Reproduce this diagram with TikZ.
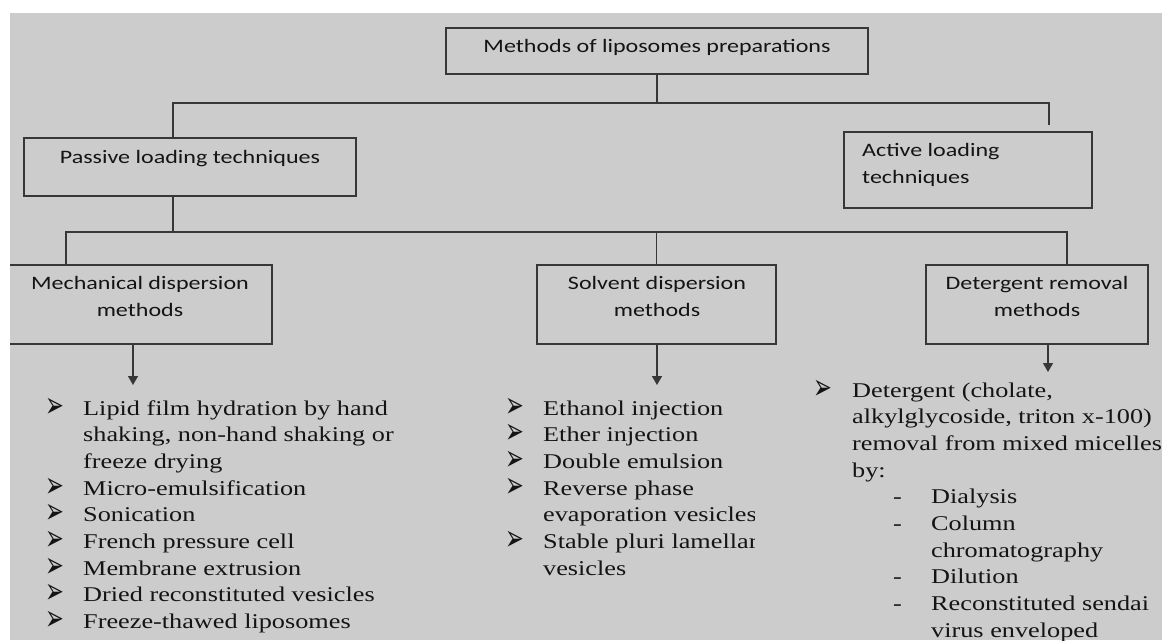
\documentclass[tikz,border=0pt]{standalone}
\usepackage{fontspec}
\usepackage{graphicx}
\setmainfont{Liberation Serif}
\newfontfamily\calib{Carlito}
\newfontfamily\dejavu{DejaVu Sans}
\usetikzlibrary{arrows.meta}
\definecolor{bg}{RGB}{204,204,204}
\definecolor{ln}{RGB}{55,55,55}
\definecolor{tx}{RGB}{20,20,20}
\newcommand\cx[1]{\scalebox{1.265}[1]{#1}}
\newcommand\tmx[1]{\scalebox{1.25}[1]{#1}}
\newcommand\bul{\raisebox{-2pt}{\scalebox{0.5}[1]{\dejavu\fontsize{36}{14}\selectfont ➢}}}
\newcommand\dsh[1]{\makebox[63.2pt][l]{\hspace{32.8pt}-}#1}
\tikzset{
  box/.style={draw=ln, line width=1.4pt, rectangle, inner sep=0pt},
  conn/.style={draw=ln, line width=1.4pt},
  arr/.style={draw=ln, line width=1.4pt, -{Triangle[width=10pt,length=9pt]}},
  boxtext/.style={inner sep=0pt, anchor=base, text=tx, font=\calib\fontsize{19}{27}\selectfont},
  listtext/.style={inner sep=0pt, anchor=base west, text=tx, font=\fontsize{21}{26.67}\selectfont},
}
\begin{document}
\begin{tikzpicture}[x=1pt, y=-1pt]
\useasboundingbox (0,0) rectangle (1162,640);
\fill[white] (0,0) rectangle (1162,640);
\fill[bg] (10,13) rectangle (1162,640);
\begin{scope}
\clip (10,13) rectangle (1162,640);
% level 0
\node[box, minimum width=422pt, minimum height=46pt] (top) at (657,51) {};
\node[boxtext] (toptext) at (657,52) {\cx{Methods of liposomes preparations}};
% level 1
\node[box, minimum width=332pt, minimum height=58pt] (passive) at (190,167) {};
\node[boxtext] (passivetext) at (190,163) {\cx{Passive loading techniques}};
\node[box, minimum width=248pt, minimum height=76pt] (active) at (968,170) {};
\node[boxtext, anchor=base west] (activetext) at (862,156) {\cx{\begin{tabular}[t]{@{}l@{}}Active loading\\techniques\end{tabular}}};
% level 2
\node[box, minimum width=272pt, minimum height=79pt] (mech) at (136,304.5) {};
\node[boxtext] (mechtext) at (140,289) {\cx{\begin{tabular}[t]{@{}c@{}}Mechanical dispersion\\methods\end{tabular}}};
\node[box, minimum width=239pt, minimum height=79pt] (solv) at (656.5,304.5) {};
\node[boxtext] (solvtext) at (657,289) {\cx{\begin{tabular}[t]{@{}c@{}}Solvent dispersion\\methods\end{tabular}}};
\node[box, minimum width=222pt, minimum height=79pt] (det) at (1037,304.5) {};
\node[boxtext] (dettext) at (1037,289) {\cx{\begin{tabular}[t]{@{}c@{}}Detergent removal\\methods\end{tabular}}};
% connectors
\coordinate (j1) at (173,103);
\coordinate (j2) at (1049,103);
\coordinate (aend) at (1049,125);
\draw[conn] (top.south) -- (top.south |- j1);
\draw[conn] (passive.north -| j1) |- (j2) -- (aend);
\coordinate (m1) at (66,232);
\coordinate (m3) at (1067,232);
\draw[conn] (passive.south -| j1) -- (j1 |- m1);
\draw[conn] (mech.north -| m1) |- (m3) -- (det.north -| m3);
\draw[conn] (solv.north) -- (solv.north |- m1);
% arrows
\coordinate (mtip) at (133,385);
\coordinate (stip) at (657,385);
\coordinate (dtip) at (1048,372);
\draw[arr] (mech.south -| mtip) -- (mtip);
\draw[arr] (solv.south -| stip) -- (stip);
\draw[arr] (det.south -| dtip) -- (dtip);
% lists
\node[listtext] (mechlist) at (45,415) {\tmx{\begin{tabular}[t]{@{}p{30.4pt}@{}l@{}}
\bul & Lipid film hydration by hand\\
 & shaking, non-hand shaking or\\
 & freeze drying\\
\bul & Micro-emulsification\\
\bul & Sonication\\
\bul & French pressure cell\\
\bul & Membrane extrusion\\
\bul & Dried reconstituted vesicles\\
\bul & Freeze-thawed liposomes
\end{tabular}}};
\begin{scope}
\clip (400,390) rectangle (754,600);
\node[listtext] (solvlist) at (505,415) {\tmx{\begin{tabular}[t]{@{}p{30.4pt}@{}l@{}}
\bul & Ethanol injection\\
\bul & Ether injection\\
\bul & Double emulsion\\
\bul & Reverse phase\\
 & evaporation vesicles\\
\bul & Stable pluri lamellar\\
 & vesicles
\end{tabular}}};
\end{scope}
\node[listtext] (detlist) at (813,397) {\tmx{\begin{tabular}[t]{@{}p{31.2pt}@{}l@{}}
\bul & Detergent (cholate,\\
 & alkylglycoside, triton x-100)\\
 & removal from mixed micelles\\
 & by:\\
 & \dsh{Dialysis}\\
 & \dsh{Column}\\
 & \makebox[63.2pt]{}chromatography\\
 & \dsh{Dilution}\\
 & \dsh{Reconstituted sendai}\\
 & \makebox[63.2pt]{}virus enveloped
\end{tabular}}};
\end{scope}
\end{tikzpicture}
\end{document}
